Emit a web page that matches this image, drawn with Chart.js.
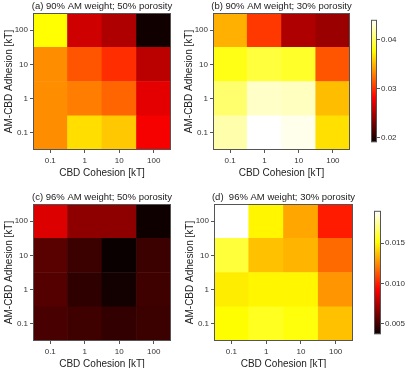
<!DOCTYPE html>
<html>
<head>
<meta charset="utf-8">
<script src="https://cdn.jsdelivr.net/npm/chart.js@4.4.0/dist/chart.umd.min.js"></script>
<style>
  html, body { margin: 0; padding: 0; background: #fff; width: 407px; height: 368px; overflow: hidden; }
  .box { position: absolute; }
  canvas { display: block; }
</style>
</head>
<body>
<div class="box" id="boxA"><canvas id="panelA"></canvas></div>
<div class="box" id="boxB"><canvas id="panelB"></canvas></div>
<div class="box" id="boxC"><canvas id="panelC"></canvas></div>
<div class="box" id="boxD"><canvas id="panelD"></canvas></div>
<div class="box" id="boxBarTop"><canvas id="barTop"></canvas></div>
<div class="box" id="boxBarBottom"><canvas id="barBottom"></canvas></div>
<script>
// x categories (CBD cohesion) and y rows (AM-CBD adhesion), bottom row first
var cohesionLabels = ['0.1', '1', '10', '100'];
var adhesionLabels = ['0.1', '1', '10', '100'];

// each row: adhesion 0.1, 1, 10, 100 ; columns: cohesion 0.1, 1, 10, 100
var valuesA = [
    [0.0334, 0.0364, 0.0356, 0.0278],
    [0.0334, 0.0328, 0.0319, 0.0271],
    [0.0334, 0.0313, 0.0298, 0.0256],
    [0.0377, 0.0263, 0.0251, 0.0192]
];
var valuesB = [
    [0.0419, 0.0440, 0.0435, 0.0365],
    [0.0404, 0.0426, 0.0424, 0.0352],
    [0.0382, 0.0392, 0.0387, 0.0313],
    [0.0347, 0.0302, 0.0251, 0.0244]
];
var valuesC = [
    [0.0051, 0.0049, 0.0046, 0.0048],
    [0.0054, 0.0045, 0.0039, 0.0049],
    [0.0055, 0.0048, 0.0037, 0.0048],
    [0.0085, 0.0067, 0.0067, 0.0038]
];
var valuesD = [
    [0.0151, 0.0156, 0.0153, 0.0137],
    [0.0147, 0.0149, 0.0149, 0.0127],
    [0.0160, 0.0137, 0.0134, 0.0117],
    [0.0190, 0.0149, 0.0131, 0.0099]
];

var rangeTop = [0.0190, 0.0440];
var ticksTop = [0.02, 0.03, 0.04];
var rangeBottom = [0.0037, 0.0190];
var ticksBottom = [0.005, 0.010, 0.015];

Chart.defaults.font.family = '"Liberation Sans", Arial, sans-serif';
Chart.defaults.color = '#222';

// matplotlib "hot"
function hot(t) {
    t = Math.max(0, Math.min(1, t));
    var r = Math.min(1, 0.0416 + t / 0.365079 * (1 - 0.0416));
    var g = Math.min(1, Math.max(0, (t - 0.365079) / (0.746032 - 0.365079)));
    var b = Math.max(0, (t - 0.746032) / (1 - 0.746032));
    return 'rgb(' + Math.round(r * 255) + ',' + Math.round(g * 255) + ',' + Math.round(b * 255) + ')';
}

var frameAndTitle = {
    id: 'frameAndTitle',
    afterDraw: function (chart, args, opts) {
        var a = chart.chartArea;
        var ctx = chart.ctx;
        ctx.save();
        ctx.strokeStyle = '#555';
        ctx.lineWidth = 1;
        ctx.strokeRect(a.left + 0.5, a.top + 0.5, a.right - a.left - 1, a.bottom - a.top - 1);
        if (opts.text) {
            ctx.fillStyle = '#222';
            ctx.font = '9.5px "Liberation Sans", Arial, sans-serif';
            ctx.textAlign = 'center';
            ctx.textBaseline = 'middle';
            ctx.fillText(opts.text, (a.left + a.right) / 2, a.top - 7);
        }
        ctx.restore();
    }
};

function heatPanel(id, rect, rows, range, title) {
    var canvas = document.getElementById(id);
    canvas.width = rect.w + 36;
    canvas.height = rect.h + 43;
    canvas.parentNode.style.left = (rect.x - 33) + 'px';
    canvas.parentNode.style.top = (rect.y - 13) + 'px';

    var datasets = rows.map(function (row, i) {
        return {
            label: adhesionLabels[i],
            data: row.map(function () { return 1; }),
            backgroundColor: row.map(function (v) {
                return hot((v - range[0]) / (range[1] - range[0]));
            }),
            borderWidth: 0,
            categoryPercentage: 1,
            barPercentage: 1
        };
    });

    return new Chart(canvas, {
        type: 'bar',
        data: { labels: cohesionLabels, datasets: datasets },
        options: {
            responsive: false,
            animation: false,
            layout: { padding: { top: 13, right: 3, left: 0, bottom: 0 } },
            plugins: {
                legend: { display: false },
                tooltip: { enabled: false },
                frameAndTitle: { text: title }
            },
            scales: {
                x: {
                    stacked: true,
                    afterFit: function (axis) { axis.height = 30; },
                    ticks: { font: { size: 8 }, color: '#333', padding: 3, maxRotation: 0 },
                    grid: { offset: false, drawOnChartArea: false, drawTicks: true, tickLength: 3, color: '#555' },
                    border: { display: false },
                    title: { display: true, text: 'CBD Cohesion [kT]', font: { size: 10 }, padding: { top: 1, bottom: 1 } }
                },
                y: {
                    stacked: true,
                    min: 0,
                    max: 4,
                    afterBuildTicks: function (axis) {
                        axis.ticks = [0.5, 1.5, 2.5, 3.5].map(function (v) { return { value: v }; });
                    },
                    afterFit: function (axis) { axis.width = 33; },
                    ticks: {
                        font: { size: 8 },
                        color: '#333',
                        padding: 2,
                        callback: function (v, i) { return adhesionLabels[i]; }
                    },
                    grid: { drawOnChartArea: false, drawTicks: true, tickLength: 3, color: '#555' },
                    border: { display: false },
                    title: { display: true, text: 'AM-CBD Adhesion [kT]', font: { size: 10 }, padding: 3 }
                }
            }
        },
        plugins: [frameAndTitle]
    });
}

function colorBar(id, rect, range, tickValues, digits) {
    var canvas = document.getElementById(id);
    canvas.width = rect.w + 32;
    canvas.height = rect.h + 4;
    canvas.parentNode.style.left = rect.x + 'px';
    canvas.parentNode.style.top = (rect.y - 2) + 'px';

    return new Chart(canvas, {
        type: 'bar',
        data: {
            labels: [''],
            datasets: [{
                data: [[range[0], range[1]]],
                backgroundColor: function (c) {
                    var area = c.chart.chartArea;
                    if (!area) return hot(0.5);
                    var g = c.chart.ctx.createLinearGradient(0, area.bottom, 0, area.top);
                    [0, 0.365079, 0.746032, 1].forEach(function (s) { g.addColorStop(s, hot(s)); });
                    return g;
                },
                borderWidth: 0,
                categoryPercentage: 1,
                barPercentage: 1
            }]
        },
        options: {
            responsive: false,
            animation: false,
            layout: { padding: { top: 2, bottom: 2, left: 0, right: 0 } },
            plugins: {
                legend: { display: false },
                tooltip: { enabled: false },
                frameAndTitle: {}
            },
            scales: {
                x: { display: false },
                y: {
                    position: 'right',
                    min: range[0],
                    max: range[1],
                    afterBuildTicks: function (axis) {
                        axis.ticks = tickValues.map(function (v) { return { value: v }; });
                    },
                    afterFit: function (axis) { axis.width = 32; },
                    ticks: {
                        font: { size: 8 },
                        color: '#333',
                        padding: 1,
                        callback: function (v) { return Number(v).toFixed(digits); }
                    },
                    grid: { drawOnChartArea: false, drawTicks: true, tickLength: 3, color: '#555' },
                    border: { display: false }
                }
            }
        },
        plugins: [frameAndTitle]
    });
}

heatPanel('panelA', { x: 33, y: 13, w: 138, h: 137 }, valuesA, rangeTop, '(a) 90% AM weight; 50% porosity');
heatPanel('panelB', { x: 213, y: 13, w: 137, h: 137 }, valuesB, rangeTop, '(b) 90% AM weight; 30% porosity');
heatPanel('panelC', { x: 33, y: 204, w: 138, h: 137 }, valuesC, rangeBottom, '(c) 96% AM weight; 50% porosity');
heatPanel('panelD', { x: 214, y: 204, w: 139, h: 137 }, valuesD, rangeBottom, '(d)  96% AM weight; 30% porosity');
colorBar('barTop', { x: 371, y: 16, w: 6, h: 130 }, rangeTop, ticksTop, 2);
colorBar('barBottom', { x: 374, y: 207, w: 7, h: 131 }, rangeBottom, ticksBottom, 3);
</script>
</body>
</html>
